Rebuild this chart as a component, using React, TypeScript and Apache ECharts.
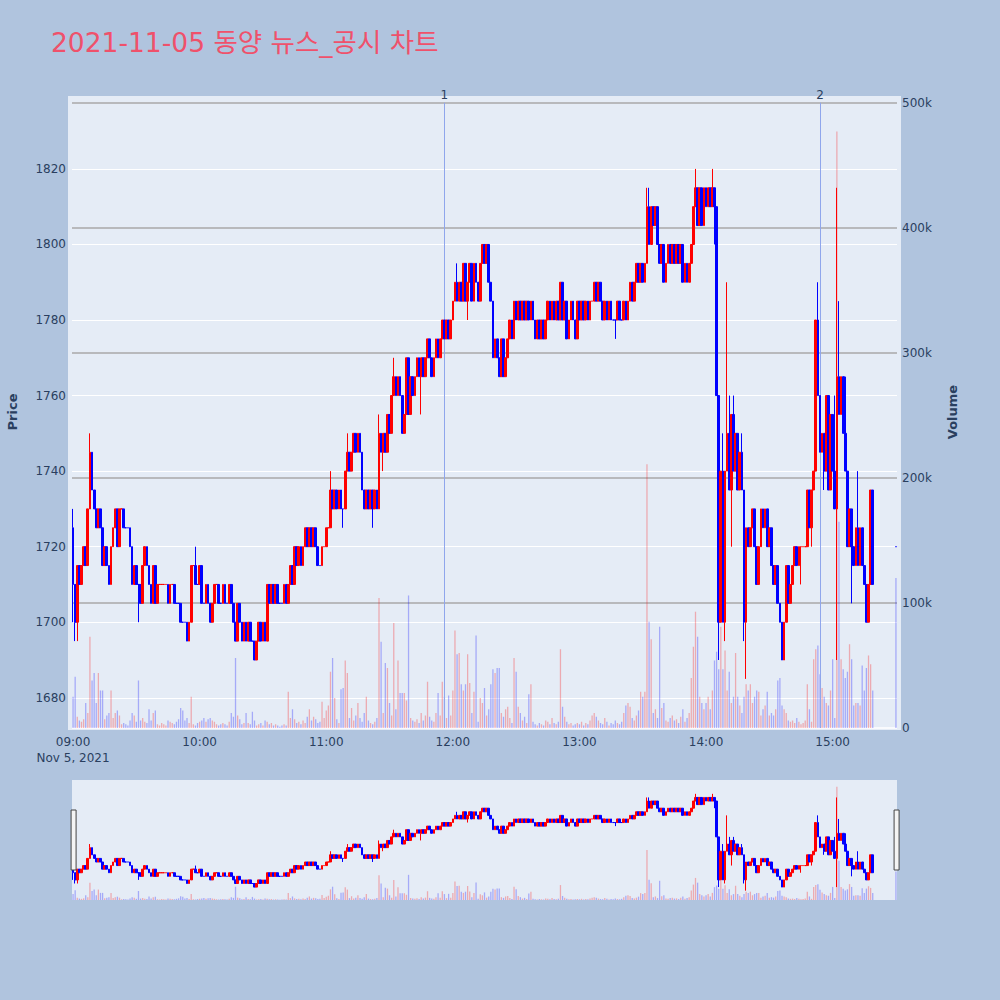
import { useEffect, useRef } from 'react';
import * as echarts from 'echarts';

const TITLE = '2021-11-05 동양 뉴스_공시 차트';
const DATE_LABEL = 'Nov 5, 2021';
const FONT = '"DejaVu Sans", Verdana, sans-serif';
const TEXT = '#2a3f5f';
const UP = '#ff0000';
const DOWN = '#0000ff';
const UP_VOL = 'rgba(255,0,0,0.28)';
const DOWN_VOL = 'rgba(0,0,255,0.28)';

// opening price of the 09:00 candle
const firstOpen = 1725;

// per-minute closing prices, one array per hour (null = no trade)
const close09 = [
  1710, 1700, 1715, 1710, 1715, 1720, 1715, 1730, 1745, 1735,
  1730, 1725, 1730, 1725, 1715, 1720, 1715, 1710, 1720, 1725,
  1730, 1720, 1730, 1730, 1725, 1725, 1725, 1720, 1710, 1715,
  1710, 1710, 1705, 1715, 1720, 1715, 1710, 1705, 1715, 1705,
  1710, 1710, 1710, 1710, 1710, 1705, 1710, 1710, 1705, 1705,
  1705, 1700, 1700, 1700, 1695, 1700, 1715, 1715, 1710, 1710,
];
const close10 = [
  1715, 1705, 1705, 1710, 1705, 1700, 1705, 1710, 1710, 1705,
  1705, 1710, 1705, 1705, 1710, 1705, 1700, 1695, 1705, 1700,
  1695, 1700, 1695, 1700, 1695, 1695, 1690, 1695, 1700, 1695,
  1700, 1695, 1710, 1705, 1710, 1705, 1710, 1705, 1705, 1705,
  1710, 1705, 1710, 1715, 1710, 1720, 1715, 1720, 1715, 1720,
  1725, 1720, 1725, 1720, 1725, 1720, 1715, 1715, 1720, 1720,
];
const close11 = [
  1725, 1725, 1735, 1730, 1735, 1730, 1735, 1730, 1730, 1740,
  1745, 1740, 1745, 1750, 1745, 1750, 1745, 1735, 1730, 1735,
  1730, 1735, 1730, 1735, 1730, 1750, 1745, 1750, 1745, 1755,
  1750, 1760, 1765, 1760, 1765, 1760, 1750, 1755, 1770, 1755,
  1765, 1760, 1765, 1770, 1765, 1770, 1765, 1770, 1775, 1770,
  1765, 1770, 1775, 1770, 1775, 1780, 1775, 1780, 1775, 1780,
];
const close12 = [
  1785, 1790, 1785, 1790, 1785, 1795, 1785, 1790, 1795, 1785,
  1795, 1790, 1785, 1795, 1800, 1795, 1800, 1790, 1785, 1770,
  1775, 1770, 1765, 1775, 1765, 1770, 1775, 1780, 1775, 1785,
  1780, 1785, 1780, 1785, 1780, 1785, 1780, 1785, 1780, 1775,
  1780, 1775, 1780, 1775, 1780, 1785, 1780, 1785, 1780, 1785,
  1780, 1790, 1780, 1785, 1775, 1780, 1785, 1780, 1775, 1785,
];
const close13 = [
  1780, 1785, 1780, 1785, 1780, 1785, 1785, 1790, 1785, 1790,
  1785, 1780, 1785, 1780, 1785, 1780, 1780, 1780, 1785, 1780,
  1780, 1785, 1780, 1785, 1790, 1785, 1790, 1795, 1790, 1795,
  1790, 1795, 1810, 1800, 1810, 1805, 1810, 1800, 1795, 1800,
  1790, 1795, 1800, 1795, 1800, 1795, 1800, 1795, 1800, 1790,
  1795, 1790, 1795, 1800, 1810, 1815, 1805, 1815, 1805, 1815,
];
const close14 = [
  1810, 1815, 1810, 1815, 1810, 1760, 1700, 1740, 1700, 1740,
  1750, 1735, 1755, 1740, 1750, 1735, 1745, 1735, 1700, 1725,
  1720, 1725, 1730, 1720, 1710, 1720, 1730, 1725, 1730, 1720,
  1725, 1715, 1710, 1715, 1705, 1700, 1690, 1700, 1715, 1705,
  1710, 1715, 1720, 1715, 1720, 1720, 1720, 1720, 1735, 1725,
  1735, 1740, 1780, 1760, 1745, 1750, 1740, 1760, 1735, 1755,
];
const close15 = [
  1740, 1730, 1765, 1755, 1765, 1750, 1740, 1720, 1730, 1720,
  1715, 1725, 1715, 1725, 1715, 1710, 1700, 1710, 1735, 1710,
  null, null, null, null, null, null, null, null, null, null,
  1720,
];

// per-minute traded volume, thousands of shares
const volume09 = [
  25, 41, 9, 6, 5, 7, 20, 12, 73, 38,
  44, 20, 44, 30, 30, 7, 10, 12, 30, 8,
  12, 14, 10, 3, 4, 3, 2, 6, 12, 10,
  5, 38, 6, 8, 5, 4, 15, 6, 12, 14,
  3, 2, 4, 3, 2, 6, 5, 4, 3, 5,
  7, 16, 14, 6, 8, 4, 25, 3, 2, 4,
];
const volume10 = [
  5, 6, 8, 5, 7, 8, 6, 5, 3, 2,
  3, 4, 3, 2, 5, 12, 9, 56, 10, 7,
  3, 4, 12, 4, 3, 13, 6, 2, 3, 4,
  2, 6, 5, 3, 4, 2, 3, 2, 1, 2,
  3, 2, 29, 8, 15, 7, 4, 5, 3, 6,
  4, 9, 15, 6, 9, 7, 4, 5, 21, 8,
];
const volume11 = [
  14, 18, 45, 56, 24, 7, 4, 31, 32, 54,
  44, 8, 16, 6, 10, 20, 8, 5, 12, 25,
  6, 4, 3, 5, 8, 104, 69, 12, 52, 48,
  20, 10, 84, 15, 54, 28, 28, 28, 22, 106,
  8, 6, 5, 7, 4, 12, 6, 10, 37, 9,
  6, 5, 12, 28, 10, 37, 25, 8, 26, 10,
];
const volume12 = [
  30, 78, 59, 60, 35, 30, 35, 59, 36, 12,
  29, 74, 5, 24, 20, 32, 10, 15, 35, 47,
  44, 48, 48, 12, 9, 15, 17, 8, 4, 56,
  45, 17, 12, 6, 9, 4, 27, 35, 5, 3,
  2, 4, 3, 2, 6, 5, 3, 8, 4, 3,
  5, 63, 17, 9, 5, 3, 4, 2, 3, 4,
];
const volume13 = [
  3, 5, 2, 4, 3, 6, 10, 12, 9, 6,
  4, 3, 8, 5, 2, 4, 3, 6, 4, 3,
  5, 12, 18, 20, 17, 8, 6, 10, 14, 29,
  25, 29, 211, 85, 71, 12, 15, 8, 81, 16,
  20, 6, 5, 8, 10, 6, 7, 4, 9, 15,
  5, 8, 12, 40, 65, 93, 73, 25, 20, 15,
];
const volume14 = [
  20, 25, 15, 30, 54, 61, 47, 81, 47, 62,
  30, 45, 20, 25, 60, 25, 18, 12, 25, 35,
  30, 35, 20, 25, 30, 29, 10, 15, 18, 29,
  10, 12, 10, 15, 38, 40, 18, 15, 12, 6,
  5, 6, 4, 8, 5, 3, 4, 6, 35, 15,
  5, 55, 63, 66, 43, 32, 25, 20, 18, 30,
];
const volume15 = [
  55, 8, 477, 165, 55, 47, 40, 45, 67, 55,
  18, 20, 20, 18, 50, 30, 48, 58, 51, 30,
  null, null, null, null, null, null, null, null, null, null,
  120,
];

const hourKeys = ['09', '10', '11', '12', '13', '14', '15'];
const closeByHour = [close09, close10, close11, close12, close13, close14, close15];
const volumeByHour = [volume09, volume10, volume11, volume12, volume13, volume14, volume15];

// candles whose high / low reach beyond open and close
const highWicks: [string, number][] = [
  ['09:00', 1730], ['09:08', 1750], ['09:58', 1720], ['11:02', 1740], ['11:10', 1750],
  ['11:25', 1755], ['11:32', 1770], ['12:02', 1795], ['13:32', 1815], ['13:33', 1815],
  ['13:55', 1820], ['14:03', 1820], ['14:08', 1750], ['14:10', 1790], ['14:11', 1760],
  ['14:13', 1760], ['14:17', 1750], ['14:53', 1790], ['15:01', 1760], ['15:02', 1815],
  ['15:03', 1785], ['15:06', 1765], ['15:12', 1740],
];
const lowWicks: [string, number][] = [
  ['09:00', 1700], ['09:01', 1695], ['09:02', 1695], ['09:31', 1700], ['11:08', 1725],
  ['11:22', 1725], ['11:27', 1740], ['11:45', 1755], ['12:07', 1780], ['13:17', 1775],
  ['14:04', 1800], ['14:06', 1690], ['14:09', 1695], ['14:12', 1720], ['14:18', 1695],
  ['14:19', 1685], ['14:45', 1710], ['14:50', 1720], ['14:56', 1735], ['15:02', 1690],
  ['15:09', 1705],
];

// news / disclosure markers
const newsEvents = [
  { label: '1', time: '11:56' },
  { label: '2', time: '14:54' },
];

const priceTicks = [1680, 1700, 1720, 1740, 1760, 1780, 1800, 1820];
const volumeTicks = [0, 100000, 200000, 300000, 400000, 500000];
const priceMin = 1672;
const priceMax = 1839.3;
const volumeMax = 505400;

function buildData() {
  const times: string[] = [];
  const closes: (number | null)[] = [];
  const vols: (number | null)[] = [];
  hourKeys.forEach((h, i) => {
    closeByHour[i].forEach((c, j) => {
      times.push(`${h}:${String(j).padStart(2, '0')}`);
      closes.push(c);
      vols.push(volumeByHour[i][j]);
    });
  });
  const hi = new Map(highWicks);
  const lo = new Map(lowWicks);
  const candles: any[] = [];
  const bars: any[] = [];
  let prevUp = false;
  closes.forEach((c, i) => {
    if (c == null) {
      candles.push(['-', '-', '-', '-']);
      bars.push('-');
      return;
    }
    const prev = i === 0 ? firstOpen : closes[i - 1];
    const o = prev == null ? c : prev;
    const up = c > o ? true : c < o ? false : prevUp;
    prevUp = up;
    const h = Math.max(o, c, hi.get(times[i]) ?? -Infinity);
    const l = Math.min(o, c, lo.get(times[i]) ?? Infinity);
    const col = up ? UP : DOWN;
    candles.push({
      value: [o, c, l, h],
      itemStyle: { color: col, color0: col, borderColor: col, borderColor0: col, borderColorDoji: col },
    });
    bars.push({ value: (vols[i] ?? 0) * 1000, itemStyle: { color: up ? UP_VOL : DOWN_VOL } });
  });
  return { times, candles, bars };
}

export default function App() {
  const ref = useRef<HTMLDivElement | null>(null);

  useEffect(() => {
    if (!ref.current) return;
    const chart = echarts.init(ref.current, undefined, { renderer: 'svg' });
    const { times, candles, bars } = buildData();
    const tickFont = { color: TEXT, fontSize: 12, fontFamily: FONT };
    const nameFont = { color: TEXT, fontSize: 13, fontWeight: 'bold' as const, fontFamily: FONT };

    chart.setOption({
      animation: false,
      backgroundColor: '#B0C4DE',
      title: {
        text: TITLE,
        left: 46,
        top: 24,
        textStyle: {
          color: '#EF516B',
          fontSize: 26.5,
          fontWeight: 'normal',
          fontFamily: '"DejaVu Sans", "Noto Sans CJK KR", sans-serif',
        },
      },
      graphic: [
        {
          type: 'rect',
          z: -10,
          silent: true,
          shape: { x: 68, y: 96, width: 833, height: 634 },
          style: { fill: '#E5ECF6' },
        },
      ],
      grid: [
        { left: 72, right: 103, top: 96, height: 632, outerBoundsMode: 'none', containLabel: false },
        {
          left: 72,
          right: 103,
          top: 780,
          height: 120,
          outerBoundsMode: 'none',
          containLabel: false,
          show: true,
          backgroundColor: '#E5ECF6',
          borderWidth: 0,
        },
      ],
      xAxis: [
        {
          type: 'category',
          gridIndex: 0,
          data: times,
          boundaryGap: true,
          axisLine: { show: false },
          axisTick: { show: false },
          splitLine: { show: false },
          axisLabel: {
            ...tickFont,
            margin: 6,
            lineHeight: 16,
            interval: (_i: number, v: string) => v.endsWith(':00'),
            formatter: (v: string, i: number) => (i === 0 ? `${v}\n${DATE_LABEL}` : v),
          },
        },
        { type: 'category', gridIndex: 1, data: times, boundaryGap: true, show: false },
      ],
      yAxis: [
        {
          type: 'value',
          gridIndex: 0,
          position: 'left',
          min: priceMin,
          max: priceMax,
          name: 'Price',
          nameLocation: 'middle',
          nameRotate: 90,
          nameGap: 53,
          nameTextStyle: nameFont,
          axisLine: { show: false },
          axisTick: { show: false, customValues: priceTicks },
          axisLabel: { ...tickFont, margin: 6, customValues: priceTicks, formatter: (v: number) => String(v) },
          splitLine: { show: true, lineStyle: { color: '#ffffff', width: 1 } },
        },
        {
          type: 'value',
          gridIndex: 0,
          position: 'right',
          min: 0,
          max: volumeMax,
          name: 'Volume',
          nameLocation: 'middle',
          nameRotate: 90,
          nameGap: 49,
          nameTextStyle: nameFont,
          axisLine: { show: false },
          axisTick: { show: false, customValues: volumeTicks },
          axisLabel: {
            ...tickFont,
            margin: 5,
            customValues: volumeTicks,
            formatter: (v: number) => (v === 0 ? '0' : `${v / 1000}k`),
          },
          splitLine: {
            show: true,
            lineStyle: { color: ['#ffffff', '#a8a8a8', '#a8a8a8', '#a8a8a8', '#a8a8a8', '#a8a8a8'], width: 1.6 },
          },
        },
        { type: 'value', gridIndex: 1, min: priceMin, max: priceMax, show: false, splitLine: { show: false } },
        { type: 'value', gridIndex: 1, min: 0, max: volumeMax, show: false, splitLine: { show: false } },
      ],
      dataZoom: [
        {
          type: 'slider',
          xAxisIndex: [0, 1],
          left: 72,
          right: 103,
          top: 780,
          height: 120,
          start: 0,
          end: 100,
          backgroundColor: 'rgba(0,0,0,0)',
          fillerColor: 'rgba(0,0,0,0)',
          borderColor: 'rgba(0,0,0,0)',
          showDataShadow: false,
          showDetail: false,
          brushSelect: false,
          moveHandleSize: 0,
          handleIcon: 'path://M0,0H5V60H0Z',
          handleSize: '50%',
          handleStyle: { color: '#f4f4f4', borderColor: '#444444', borderWidth: 1 },
          emphasis: { handleStyle: { color: '#f4f4f4', borderColor: '#444444', borderWidth: 1 } },
          dataBackground: { lineStyle: { opacity: 0 }, areaStyle: { opacity: 0 } },
          selectedDataBackground: { lineStyle: { opacity: 0 }, areaStyle: { opacity: 0 } },
        },
      ],
      series: [
        {
          name: 'Volume',
          type: 'bar',
          xAxisIndex: 0,
          yAxisIndex: 1,
          data: bars,
          barWidth: 1.3,
          silent: true,
          z: 2,
          markLine: {
            silent: true,
            symbol: ['none', 'none'],
            lineStyle: { color: '#8fa6ec', width: 1, type: 'solid' },
            label: { show: true, position: 'end', distance: 2, formatter: '{b}', ...tickFont },
            data: newsEvents.map((ev) => [
              { name: ev.label, coord: [times.indexOf(ev.time), 0] },
              { name: ev.label, coord: [times.indexOf(ev.time), 500000] },
            ]),
          },
        },
        {
          name: 'Price',
          type: 'candlestick',
          xAxisIndex: 0,
          yAxisIndex: 0,
          data: candles,
          barWidth: 2.2,
          silent: true,
          z: 6,
          itemStyle: { borderWidth: 1 },
        },
        {
          type: 'bar',
          xAxisIndex: 1,
          yAxisIndex: 3,
          data: bars,
          barWidth: 1.3,
          silent: true,
        },
        {
          type: 'candlestick',
          xAxisIndex: 1,
          yAxisIndex: 2,
          data: candles,
          barWidth: 2.2,
          silent: true,
          itemStyle: { borderWidth: 1 },
        },
      ],
    });

    return () => {
      chart.dispose();
    };
  }, []);

  return (
    <div
      ref={ref}
      style={{ position: 'fixed', left: 0, top: 0, width: 1000, height: 1000 }}
    />
  );
}
